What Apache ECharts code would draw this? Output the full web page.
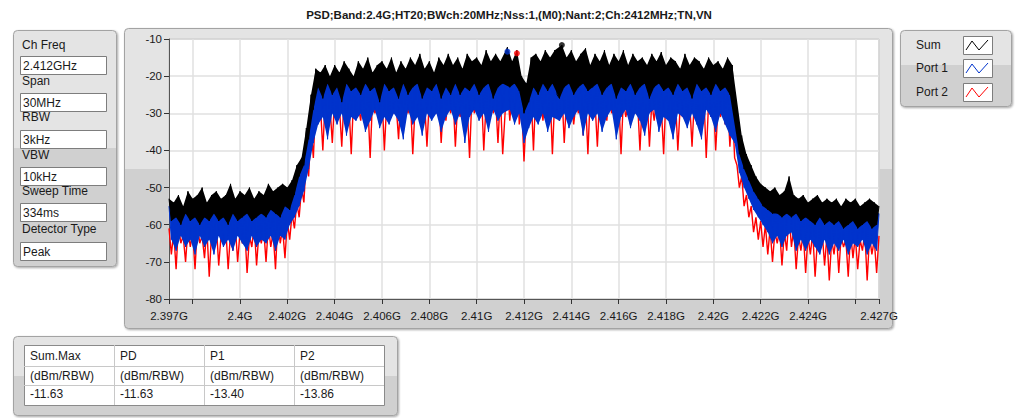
<!DOCTYPE html>
<html><head><meta charset="utf-8">
<script src="https://cdn.jsdelivr.net/npm/echarts@6/dist/echarts.min.js"></script>
<style>html,body{margin:0;padding:0;background:#fff}#c{width:1018px;height:418px}</style>
</head><body><div id="c"></div>
<script>
const TITLE = 'PSD;Band:2.4G;HT20;BWch:20MHz;Nss:1,(M0);Nant:2;Ch:2412MHz;TN,VN';
const FREQ_START = 2397, FREQ_STEP = 0.1; // MHz, sweep sampling
const SUM = [
-53,-59,-54,-58,-52,-60,-55,-57,-51,-59,
-53,-58,-52,-60,-50,-58,-54,-59,-52,-57,
-51,-59,-53,-58,-52,-60,-49,-57,-53,-59,
-51,-58,-52,-57,-50,-59,-53,-58,-51,-57,
-52,-58,-49,-56,-51,-57,-50,-58,-49,-55,
-50,-56,-48,-52,-44,-47,-42,-44,-34,-37,
-25,-29,-18,-23,-19,-26,-17,-22,-20,-25,
-17,-23,-19,-27,-16,-22,-18,-24,-20,-23,
-16,-25,-18,-22,-15,-24,-19,-23,-17,-27,
-16,-22,-18,-24,-15,-23,-19,-26,-16,-22,
-18,-25,-15,-23,-17,-22,-14,-26,-18,-23,
-16,-24,-19,-22,-15,-26,-17,-23,-14,-25,
-17,-22,-15,-25,-18,-23,-14,-24,-16,-22,
-15,-25,-17,-23,-13,-22,-16,-26,-14,-23,
-16,-22,-14,-12.2,-23,-16,-22,-13,-24,-20,
-30,-22,-27,-15,-23,-14,-25,-16,-22,-13,
-24,-15,-22,-13,-25,-26,-11.63,-23,-15,-22,
-13,-25,-16,-23,-14,-22,-12.5,-24,-17,-23,
-14,-22,-16,-25,-13,-23,-17,-22,-14,-26,
-16,-23,-13,-24,-17,-22,-14,-25,-16,-23,
-15,-22,-17,-26,-14,-23,-16,-22,-13.5,-24,
-17,-23,-15,-25,-16,-22,-18,-24,-14,-23,
-17,-26,-15,-22,-16,-24,-18,-23,-15,-25,
-17,-22,-16,-24,-18,-23,-15,-25,-17,-30,
-32,-41,-36,-45,-41,-48,-44,-51,-47,-53,
-49,-55,-50,-56,-51,-57,-50,-57,-52,-58,
-51,-57,-47,-58,-52,-57,-53,-59,-52,-58,
-54,-59,-53,-60,-52,-58,-54,-60,-53,-59,
-54,-60,-53,-59,-55,-61,-53,-60,-54,-59,
-53,-61,-55,-60,-54,-59,-53,-61,-54,-60,
-55];
const PORT1 = [
-55,-64,-56,-67,-55,-63,-56,-66,-55,-64,
-56,-68,-55,-63,-56,-66,-55,-64,-56,-68,
-55,-63,-56,-66,-55,-64,-56,-67,-55,-63,
-56,-65,-55,-67,-56,-63,-55,-66,-56,-64,
-55,-65,-56,-63,-55,-67,-54,-63,-55,-64,
-53,-60,-52,-58,-48,-55,-45,-51,-37,-45,
-28,-38,-21,-33,-20,-31,-21,-37,-20,-30,
-21,-33,-20,-30,-21,-36,-20,-31,-21,-32,
-20,-30,-21,-35,-20,-32,-21,-29,-20,-34,
-21,-31,-20,-33,-21,-30,-20,-32,-21,-37,
-20,-29,-21,-33,-20,-31,-21,-36,-20,-30,
-21,-32,-20,-30,-21,-35,-20,-31,-21,-29,
-20,-33,-21,-30,-20,-38,-21,-31,-20,-29,
-21,-32,-20,-30,-21,-35,-20,-29,-21,-32,
-20,-30,-22,-13.4,-29,-20,-33,-19,-30,-21,
-38,-22,-34,-20,-31,-20,-33,-21,-30,-20,
-35,-20,-31,-21,-29,-32,-19,-30,-20,-34,
-20,-31,-21,-29,-20,-36,-21,-30,-20,-32,
-21,-30,-20,-35,-21,-31,-20,-29,-21,-37,
-20,-31,-21,-29,-20,-34,-21,-30,-20,-32,
-21,-36,-20,-30,-21,-29,-20,-35,-21,-31,
-20,-32,-21,-37,-20,-30,-21,-31,-20,-34,
-21,-30,-20,-33,-21,-37,-20,-29,-21,-31,
-20,-35,-21,-30,-20,-33,-21,-36,-22,-38,
-36,-46,-41,-50,-45,-53,-49,-56,-51,-58,
-52,-60,-53,-62,-54,-65,-53,-63,-54,-66,
-54,-63,-50,-62,-54,-67,-55,-64,-54,-67,
-55,-64,-55,-66,-54,-68,-55,-64,-55,-68,
-55,-65,-55,-67,-56,-64,-55,-68,-55,-65,
-55,-66,-56,-64,-55,-68,-55,-65,-56,-67,
-57];
const PORT2 = [
-61,-68,-62,-72,-60,-65,-63,-70,-61,-66,
-62,-72,-60,-65,-63,-69,-61,-74,-62,-66,
-60,-71,-63,-65,-61,-72,-62,-67,-60,-70,
-62,-65,-61,-73,-63,-66,-60,-71,-62,-65,
-61,-70,-60,-66,-62,-72,-59,-65,-61,-69,
-59,-64,-57,-61,-54,-58,-50,-54,-42,-47,
-34,-42,-27,-31,-28,-40,-26,-32,-28,-38,
-26,-31,-28,-39,-25,-30,-27,-41,-26,-31,
-28,-32,-25,-33,-27,-42,-26,-30,-28,-31,
-25,-40,-27,-32,-26,-30,-28,-37,-25,-33,
-27,-30,-26,-41,-28,-31,-25,-33,-27,-39,
-26,-31,-28,-30,-25,-38,-27,-32,-26,-30,
-25,-39,-27,-31,-26,-33,-28,-42,-25,-30,
-26,-31,-24,-40,-27,-32,-25,-30,-26,-38,
-25,-41,-30,-22,-32,-24,-31,-13.86,-33,-27,
-43,-30,-33,-25,-40,-24,-31,-26,-32,-25,
-33,-24,-41,-26,-30,-32,-24,-38,-26,-31,
-25,-33,-27,-30,-24,-36,-26,-41,-25,-30,
-27,-39,-25,-31,-26,-32,-24,-30,-27,-33,
-25,-41,-26,-31,-28,-33,-25,-30,-27,-40,
-26,-31,-25,-39,-27,-32,-26,-30,-28,-41,
-25,-31,-27,-33,-26,-40,-28,-31,-25,-30,
-27,-39,-26,-31,-28,-32,-25,-42,-27,-31,
-26,-40,-28,-31,-27,-33,-26,-39,-28,-42,
-44,-50,-47,-55,-52,-58,-55,-62,-58,-64,
-59,-66,-60,-68,-61,-70,-62,-65,-61,-71,
-62,-67,-57,-66,-61,-72,-63,-67,-62,-73,
-63,-68,-62,-74,-64,-67,-62,-71,-63,-75,
-64,-68,-62,-73,-63,-66,-64,-74,-62,-69,
-63,-72,-64,-67,-62,-75,-63,-68,-64,-73,
-63];
const SERIES_NAMES = ['Sum', 'Port 1', 'Port 2'];
const SERIES_COLORS = ['#000000', '#0033cc', '#ff0000'];
const MAX_FREQ = [2413.6, 2411.3, 2411.7];
const MAX_VAL = [-11.63, -13.40, -13.86];
const X_TICKS = [2397,2398,2400,2402,2404,2406,2408,2410,2412,2414,2416,2418,2420,2422,2424,2426,2427];
const X_LABEL_VALUES = [2397,2400,2402,2404,2406,2408,2410,2412,2414,2416,2418,2420,2422,2424,2427];
const X_LABELS = ['2.397G','2.4G','2.402G','2.404G','2.406G','2.408G','2.41G','2.412G','2.414G','2.416G','2.418G','2.42G','2.422G','2.424G','2.427G'];
const Y_MIN = -80, Y_MAX = -10, Y_STEP = 10;
const PARAM_LABELS = ['Ch Freq','Span','RBW','VBW','Sweep Time','Detector Type'];
const PARAM_VALUES = ['2.412GHz','30MHz','3kHz','10kHz','334ms','Peak'];
const TABLE_HEAD = ['Sum.Max','PD','P1','P2'];
const TABLE_UNIT = ['(dBm/RBW)','(dBm/RBW)','(dBm/RBW)','(dBm/RBW)'];
const TABLE_VALUES = ['-11.63','-11.63','-13.40','-13.86'];

const FONT = '"Liberation Sans", Arial, sans-serif';
const freqAt = i => +(FREQ_START + i * FREQ_STEP).toFixed(2);
const toPts = arr => arr.map((v, i) => [freqAt(i), v]);

function grad(split, c1, c2) {
  return {type:'linear', x:0, y:0, x2:0, y2:1, colorStops:[
    {offset:0, color:c1},{offset:split, color:c1},{offset:split, color:c2},{offset:1, color:c2}]};
}
function panel(x, y, w, h, split) {
  return {type:'rect', z:-100, silent:true,
    shape:{x:x+0.5, y:y+0.5, width:w, height:h, r:4},
    style:{fill:grad(split,'#e4e4e4','#d0d0d0'), stroke:'#a3a3a3', lineWidth:1,
      shadowBlur:2, shadowOffsetX:1, shadowOffsetY:1, shadowColor:'rgba(0,0,0,0.35)'}};
}
function txt(x, y, s, opt) {
  opt = opt || {};
  return {type:'text', x:x, y:y, z:10, silent:true,
    style:{text:s, fill:opt.fill || '#1a1a1a', font:(opt.weight||'normal') + ' ' + (opt.size||12) + 'px ' + FONT,
      textAlign:opt.align || 'left', textVerticalAlign:'middle'}};
}
function box(x, y, w, h) {
  return {type:'rect', z:0, silent:true, shape:{x:x+0.5, y:y+0.5, width:w, height:h},
    style:{fill:'#ffffff', stroke:'#7d7d7d', lineWidth:1}};
}

const graphics = [];
graphics.push(panel(124, 28, 768, 300, 0.47));
graphics.push({type:'rect', z:-90, silent:true, shape:{x:169, y:39, width:710, height:260}, style:{fill:'#ffffff'}});
graphics.push(panel(13, 30, 103, 236, 0.5));
const labelY = [45, 81, 117, 155, 191, 229];
const boxY = [56, 93, 130, 167, 203, 242];
PARAM_LABELS.forEach((s, i) => {
  graphics.push(txt(22, labelY[i], s));
  graphics.push(box(20, boxY[i], 86, 18));
  graphics.push(txt(23, boxY[i] + 9.5, PARAM_VALUES[i]));
});
graphics.push(panel(900, 30, 111, 76, 0.46));
const legY = [45, 68, 92];
SERIES_NAMES.forEach((s, i) => {
  graphics.push(txt(916, legY[i], s));
  const by = legY[i] - 9;
  graphics.push(box(963, by, 29, 18));
  graphics.push({type:'polyline', z:5, silent:true,
    shape:{points:[[966, by+14],[972, by+5],[979, by+14],[988, by+4]]},
    style:{stroke:SERIES_COLORS[i], lineWidth:1, fill:null}});
});
graphics.push(panel(13, 336, 384, 79, 0.5));
graphics.push({type:'rect', z:0, silent:true, shape:{x:24.5, y:345.5, width:360, height:60}, style:{fill:'#fff', stroke:'#8a8a8a', lineWidth:1}});
[114, 204, 294].forEach(x => graphics.push({type:'line', z:1, silent:true, shape:{x1:x+0.5, y1:345, x2:x+0.5, y2:405}, style:{stroke:'#c8c8c8', lineWidth:1}}));
[366, 385].forEach(y => graphics.push({type:'line', z:1, silent:true, shape:{x1:24, y1:y+0.5, x2:384, y2:y+0.5}, style:{stroke:'#c8c8c8', lineWidth:1}}));
const colX = [30, 120, 210, 300];
TABLE_HEAD.forEach((s, i) => {
  graphics.push(txt(colX[i], 356, s));
  graphics.push(txt(colX[i], 376, TABLE_UNIT[i]));
  graphics.push(txt(colX[i], 394, TABLE_VALUES[i]));
});

// the dense trace: filled between its local peaks and local dips (what a 10k-point sweep looks like)
function envelopeOrder(data) {
  const n = data.length, up = [], lo = [];
  for (let i = 0; i < n; i++) {
    const p = i > 0 ? data[i-1] : data[i], q = i < n - 1 ? data[i+1] : data[i];
    if (data[i] >= p && data[i] >= q) up.push(i);
    if (data[i] <= p && data[i] <= q) lo.push(i);
  }
  return up.concat(lo.reverse());
}
const bandSeries = (name, data, color, z) => ({
  type:'custom', name:name + ' trace', z, silent:true, animation:false,
  data:[[FREQ_START, Y_MIN]],
  renderItem:(params, api) => ({
    type:'polygon',
    shape:{points:envelopeOrder(data).map(i => api.coord([freqAt(i), data[i]]))},
    style:{fill:color}
  })
});
const lineSeries = (name, data, color, z, w) => ({
  name, type:'line', data:toPts(data), showSymbol:false, symbol:'none', sampling:null,
  lineStyle:{color, width:w}, z, silent:true, animation:false, emphasis:{disabled:true}
});

const chart = echarts.init(document.getElementById('c'), null, {renderer:'svg', width:1018, height:418});
chart.setOption({
  animation:false,
  title:{text:TITLE, left:'center', top:4, textStyle:{fontFamily:FONT, fontSize:11.5, fontWeight:'bold', color:'#1a1a1a'}},
  grid:{left:169, top:39, right:139, bottom:119, show:true, borderColor:'#8c8c8c', borderWidth:1, backgroundColor:'transparent'},
  xAxis:{type:'value', min:FREQ_START, max:FREQ_START + 30,
    axisLine:{onZero:false, lineStyle:{color:'#555', width:1}},
    axisTick:{show:true, length:5, lineStyle:{color:'#333'}, customValues:X_TICKS},
    axisLabel:{customValues:X_LABEL_VALUES, formatter:v => X_LABELS[X_LABEL_VALUES.indexOf(v)], margin:11,
      fontFamily:FONT, fontSize:11.5, color:'#1a1a1a', showMinLabel:true, showMaxLabel:true},
    splitLine:{show:true, lineStyle:{color:'#e0e0e0', width:1.5}}},
  yAxis:{type:'value', min:Y_MIN, max:Y_MAX, interval:Y_STEP,
    axisLine:{show:true, lineStyle:{color:'#555', width:1}},
    axisTick:{show:true, length:5, lineStyle:{color:'#333'}},
    axisLabel:{margin:7, fontFamily:FONT, fontSize:11.5, color:'#1a1a1a'},
    splitLine:{show:true, lineStyle:{color:'#e0e0e0', width:1.5}}},
  graphic:graphics,
  series:[
    lineSeries(SERIES_NAMES[2], PORT2, SERIES_COLORS[2], 2, 1.4),
    bandSeries(SERIES_NAMES[1], PORT1, SERIES_COLORS[1], 3),
    lineSeries(SERIES_NAMES[1], PORT1, SERIES_COLORS[1], 4, 1),
    bandSeries(SERIES_NAMES[0], SUM, SERIES_COLORS[0], 5),
    lineSeries(SERIES_NAMES[0], SUM, SERIES_COLORS[0], 6, 1),
    {type:'scatter', z:10, silent:true, symbolSize:6, animation:false,
      data:MAX_FREQ.map((f, i) => ({value:[f, MAX_VAL[i]], itemStyle:{color:SERIES_COLORS[i]}}))}
  ]
});
</script></body></html>
